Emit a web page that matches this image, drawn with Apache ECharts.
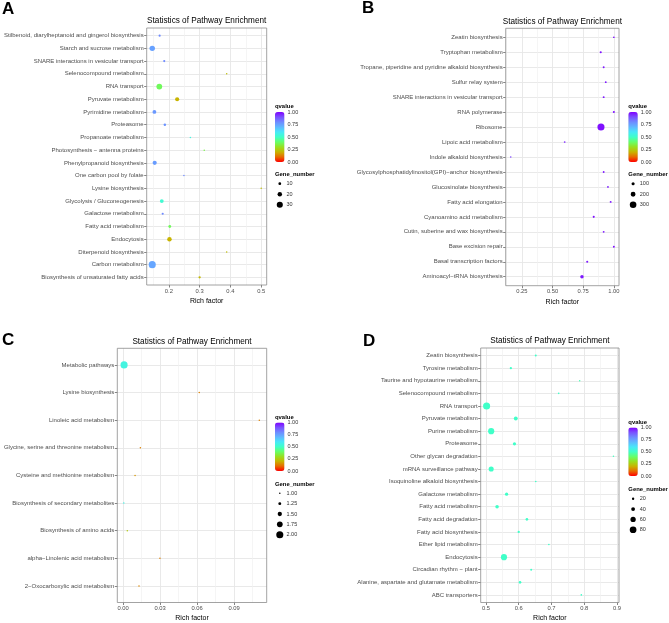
<!DOCTYPE html>
<html>
<head>
<meta charset="utf-8">
<title>Statistics of Pathway Enrichment</title>
<script src="https://cdn.jsdelivr.net/npm/echarts@6/dist/echarts.min.js"></script>
<style>
  html, body { margin: 0; padding: 0; background: #fff; }
  #main { width: 669px; height: 623px; }
</style>
</head>
<body>
<div id="main"></div>
<script>
// ---- panel A (top to bottom) ----
var aNames = ['Stilbenoid, diarylheptanoid and gingerol biosynthesis', 'Starch and sucrose metabolism',
  'SNARE interactions in vesicular transport', 'Selenocompound metabolism', 'RNA transport',
  'Pyruvate metabolism', 'Pyrimidine metabolism', 'Proteasome', 'Propanoate metabolism',
  'Photosynthesis \u2212 antenna proteins', 'Phenylpropanoid biosynthesis', 'One carbon pool by folate',
  'Lysine biosynthesis', 'Glycolysis / Gluconeogenesis', 'Galactose metabolism', 'Fatty acid metabolism',
  'Endocytosis', 'Diterpenoid biosynthesis', 'Carbon metabolism', 'Biosynthesis of unsaturated fatty acids'];
var aRich  = [0.170, 0.146, 0.185, 0.388, 0.169, 0.227, 0.153, 0.187, 0.270, 0.315,
              0.154, 0.249, 0.500, 0.177, 0.180, 0.203, 0.202, 0.388, 0.146, 0.300];
var aGenes = [6, 26, 6, 2, 28, 18, 16, 8, 2, 2, 18, 2, 2, 16, 6, 10, 20, 2, 36, 7];
var aQ     = [0.80, 0.75, 0.80, 0.22, 0.38, 0.20, 0.77, 0.78, 0.55, 0.36,
              0.76, 0.80, 0.22, 0.52, 0.80, 0.38, 0.20, 0.22, 0.74, 0.21];
var aTicks = [0.2, 0.3, 0.4, 0.5];
var aMinor = [0.15, 0.25, 0.35, 0.45];
var aSizeBreaks = [10, 20, 30];

// ---- panel B ----
var bNames = ['Zeatin biosynthesis', 'Tryptophan metabolism', 'Tropane, piperidine and pyridine alkaloid biosynthesis',
  'Sulfur relay system', 'SNARE interactions in vesicular transport', 'RNA polymerase', 'Ribosome',
  'Lipoic acid metabolism', 'Indole alkaloid biosynthesis', 'Glycosylphosphatidylinositol(GPI)\u2212anchor biosynthesis',
  'Glucosinolate biosynthesis', 'Fatty acid elongation', 'Cyanoamino acid metabolism',
  'Cutin, suberine and wax biosynthesis', 'Base excision repair', 'Basal transcription factors',
  'Aminoacyl\u2212tRNA biosynthesis'];
var bRich  = [1.0, 0.893, 0.917, 0.934, 0.917, 1.0, 0.895, 0.599, 0.159, 0.917,
              0.952, 0.974, 0.836, 0.917, 1.0, 0.783, 0.740];
var bGenes = [15, 40, 30, 25, 30, 35, 330, 15, 5, 25, 25, 30, 40, 25, 30, 40, 120];
var bQ     = [0.98, 0.98, 0.97, 0.97, 0.97, 0.98, 0.98, 0.95, 0.92, 0.97,
              0.96, 0.97, 0.98, 0.97, 0.98, 0.97, 0.97];
var bTicks = [0.25, 0.5, 0.75, 1.0];
var bMinor = [0.125, 0.375, 0.625, 0.875];
var bSizeBreaks = [100, 200, 300];

// ---- panel C ----
var cNames = ['Metabolic pathways', 'Lysine biosynthesis', 'Linoleic acid metabolism',
  'Glycine, serine and threonine metabolism', 'Cysteine and methionine metabolism',
  'Biosynthesis of secondary metabolites', 'Biosynthesis of amino acids',
  'alpha\u2212Linolenic acid metabolism', '2\u2212Oxocarboxylic acid metabolism'];
var cRich  = [0.0008, 0.0618, 0.1105, 0.0140, 0.0097, 0.0006, 0.0034, 0.0299, 0.0129];
var cGenes = [2, 1, 1, 1, 1, 1, 1, 1, 1];
var cQ     = [0.55, 0.13, 0.13, 0.13, 0.16, 0.56, 0.25, 0.13, 0.14];
var cTicks = [0, 0.03, 0.06, 0.09];
var cMinor = [0.015, 0.045, 0.075, 0.105];
var cSizeBreaks = [1, 1.25, 1.5, 1.75, 2];

// ---- panel D ----
var dNames = ['Zeatin biosynthesis', 'Tyrosine metabolism', 'Taurine and hypotaurine metabolism',
  'Selenocompound metabolism', 'RNA transport', 'Pyruvate metabolism', 'Purine metabolism', 'Proteasome',
  'Other glycan degradation', 'mRNA surveillance pathway', 'Isoquinoline alkaloid biosynthesis',
  'Galactose metabolism', 'Fatty acid metabolism', 'Fatty acid degradation', 'Fatty acid biosynthesis',
  'Ether lipid metabolism', 'Endocytosis', 'Circadian rhythm \u2212 plant',
  'Alanine, aspartate and glutamate metabolism', 'ABC transporters'];
var dRich  = [0.652, 0.576, 0.786, 0.722, 0.502, 0.591, 0.516, 0.587, 0.889, 0.516,
              0.652, 0.563, 0.534, 0.625, 0.600, 0.692, 0.555, 0.638, 0.604, 0.791];
var dGenes = [15, 19, 8, 10, 85, 41, 72, 32, 8, 58, 10, 32, 36, 23, 19, 10, 72, 15, 23, 10];
var dQ     = [0.50, 0.50, 0.48, 0.50, 0.50, 0.50, 0.50, 0.50, 0.49, 0.50,
              0.50, 0.50, 0.50, 0.50, 0.50, 0.50, 0.50, 0.50, 0.50, 0.50];
var dTicks = [0.5, 0.6, 0.7, 0.8, 0.9];
var dMinor = [0.55, 0.65, 0.75, 0.85];
var dSizeBreaks = [20, 40, 60, 80];

var qBreaks = [1, 0.75, 0.5, 0.25, 0];
var ramp = ['#FF0000', '#E86A00', '#C8B400', '#98E020', '#66FF6A', '#40FFC8',
            '#48E8F8', '#60B8FF', '#6E8AFF', '#7A50FF', '#8000FF'];
var font = 'Liberation Sans';

var panels = [
  {letter: 'A', names: aNames, rich: aRich, genes: aGenes, q: aQ, ticks: aTicks, minor: aMinor, dec: 1,
   sizeBreaks: aSizeBreaks, sizeDec: 0, grid: {left: 146.7, top: 28, width: 120, height: 257},
   xMin: 0.128, xMax: 0.518, letterXY: [2, 10], legX: 275, barTop: 112, barH: 50, gTitleY: 174.3, gY: 183.7, gStep: 10.5},
  {letter: 'B', names: bNames, rich: bRich, genes: bGenes, q: bQ, ticks: bTicks, minor: bMinor, dec: 2,
   sizeBreaks: bSizeBreaks, sizeDec: 0, grid: {left: 505.7, top: 28.3, width: 113.3, height: 257.4},
   xMin: 0.118, xMax: 1.042, letterXY: [362, 9], legX: 628.3, barTop: 112, barH: 50, gTitleY: 174.3, gY: 183.7, gStep: 10.5},
  {letter: 'C', names: cNames, rich: cRich, genes: cGenes, q: cQ, ticks: cTicks, minor: cMinor, dec: 2,
   sizeBreaks: cSizeBreaks, sizeDec: 2, grid: {left: 117.3, top: 348.3, width: 149.4, height: 257.4},
   xMin: -0.0047, xMax: 0.1165, letterXY: [2, 341], legX: 275, barTop: 422.5, barH: 48.5, gTitleY: 484, gY: 493.3, gStep: 10.35},
  {letter: 'D', names: dNames, rich: dRich, genes: dGenes, q: dQ, ticks: dTicks, minor: dMinor, dec: 1,
   sizeBreaks: dSizeBreaks, sizeDec: 0, grid: {left: 480.7, top: 348, width: 138.3, height: 257},
   xMin: 0.484, xMax: 0.906, letterXY: [363, 342], legX: 628.3, barTop: 427.5, barH: 48.5, gTitleY: 489, gY: 498.7, gStep: 10.35}
];

function sizeOf(g, lo, hi) { return 1.5 + 5.6 * (g - lo) / (hi - lo); }

var option = {
  backgroundColor: '#fff',
  animation: false,
  grid: [], xAxis: [], yAxis: [], series: [], visualMap: [], graphic: []
};

panels.forEach(function (p, k) {
  var n = p.names.length;
  var lo = Math.min.apply(null, p.genes), hi = Math.max.apply(null, p.genes);
  var idx = [];
  for (var i = 0; i < n; i++) idx.push(i);

  option.grid.push({left: p.grid.left, top: p.grid.top, width: p.grid.width, height: p.grid.height,
    show: true, backgroundColor: 'transparent', borderColor: '#8C8C8C', borderWidth: 0.8, z: 3});

  // main x axis
  option.xAxis.push({
    type: 'value', gridIndex: k, min: p.xMin, max: p.xMax, position: 'bottom',
    name: 'Rich factor', nameLocation: 'middle', nameGap: 12.5,
    nameTextStyle: {fontFamily: font, fontSize: 7, color: '#000'},
    axisLine: {show: false, onZero: false},
    axisTick: {show: true, length: 2.5, lineStyle: {color: '#333', width: 0.6}, customValues: p.ticks},
    axisLabel: {fontFamily: font, fontSize: 5.8, color: '#4D4D4D', margin: 3, customValues: p.ticks,
      formatter: (function (d) { return function (v) { return v.toFixed(d); }; })(p.dec)},
    splitLine: {show: true, lineStyle: {color: '#E6E6E6', width: 0.9}}
  });
  // minor grid lines
  option.xAxis.push({
    type: 'value', gridIndex: k, min: p.xMin, max: p.xMax, position: 'bottom',
    axisLine: {show: false, onZero: false},
    axisTick: {show: false, customValues: p.minor},
    axisLabel: {show: false, customValues: p.minor},
    splitLine: {show: true, lineStyle: {color: '#F0F0F0', width: 0.7}}
  });

  option.yAxis.push({
    type: 'value', gridIndex: k, min: -0.6, max: n - 0.4, position: 'left',
    axisLine: {show: false, onZero: false},
    axisTick: {show: true, length: 2.5, lineStyle: {color: '#333', width: 0.6}, customValues: idx},
    axisLabel: {fontFamily: font, fontSize: 6, color: '#4D4D4D', margin: 3, customValues: idx,
      formatter: (function (names) { return function (v) { return names[names.length - 1 - v]; }; })(p.names)},
    splitLine: {show: true, lineStyle: {color: '#E6E6E6', width: 0.9}}
  });

  var data = p.names.map(function (name, i) {
    return [p.rich[i], n - 1 - i, p.genes[i], p.q[i], name];
  });
  option.series.push({
    type: 'scatter', xAxisIndex: 2 * k, yAxisIndex: k, data: data,
    symbolSize: function (d) { return sizeOf(d[2], lo, hi); },
    itemStyle: {opacity: 1}
  });

  option.visualMap.push({
    type: 'continuous', seriesIndex: k, dimension: 3, min: 0, max: 1,
    calculable: false, hoverLink: false, padding: 0, itemWidth: 9.5, itemHeight: p.barH,
    left: p.legX, top: p.barTop, inRange: {color: ramp}
  });

  var g = option.graphic;
  g.push({type: 'text', left: p.letterXY[0], top: p.letterXY[1] - 9,
    style: {text: p.letter, fontFamily: font, fontSize: 17, fontWeight: 'bold', fill: '#000'}});
  g.push({type: 'text', x: p.grid.left + p.grid.width / 2, y: p.grid.top - 7,
    style: {text: 'Statistics of Pathway Enrichment', fontFamily: font, fontSize: 8.2, fill: '#000',
      align: 'center', verticalAlign: 'middle'}});
  g.push({type: 'text', x: p.legX, y: p.barTop - 5.5,
    style: {text: 'qvalue', fontFamily: font, fontSize: 5.9, fontWeight: 'bold', fill: '#000', verticalAlign: 'middle'}});
  qBreaks.forEach(function (v) {
    g.push({type: 'text', x: p.legX + 12.5, y: p.barTop + (1 - v) * p.barH,
      style: {text: v.toFixed(2), fontFamily: font, fontSize: 5.5, fill: '#333', verticalAlign: 'middle'}});
  });
  g.push({type: 'text', x: p.legX, y: p.gTitleY,
    style: {text: 'Gene_number', fontFamily: font, fontSize: 5.9, fontWeight: 'bold', fill: '#000', verticalAlign: 'middle'}});
  p.sizeBreaks.forEach(function (b, i) {
    var cy = p.gY + i * p.gStep;
    g.push({type: 'circle', shape: {cx: p.legX + 4.8, cy: cy, r: sizeOf(b, lo, hi) / 2}, style: {fill: '#000'}});
    g.push({type: 'text', x: p.legX + 11.5, y: cy,
      style: {text: b.toFixed(p.sizeDec), fontFamily: font, fontSize: 5.5, fill: '#333', verticalAlign: 'middle'}});
  });
});

var chart = echarts.init(document.getElementById('main'));
chart.setOption(option);
</script>
</body>
</html>
